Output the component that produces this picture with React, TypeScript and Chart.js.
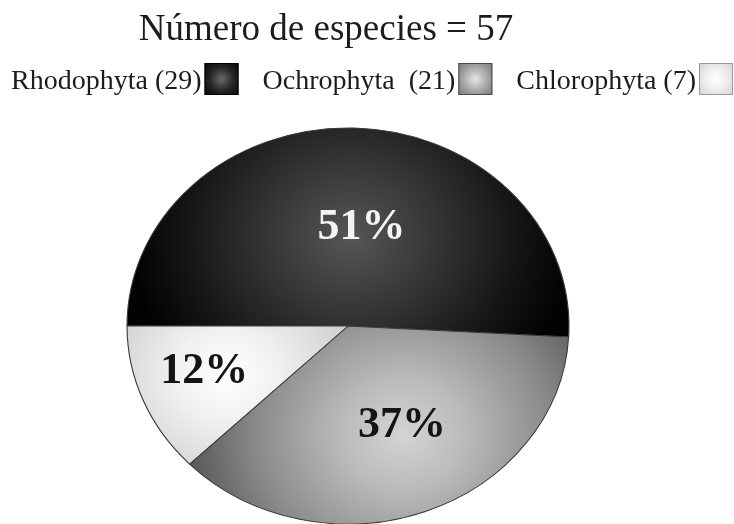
import React, { useEffect, useRef } from "react";
import { Chart, registerables } from "chart.js";

Chart.register(...registerables);

// ---- data ----
const titleText = "Número de especies = 57";
const categories = ["Rhodophyta", "Ochrophyta", "Chlorophyta"];
const speciesCounts = [29, 21, 7];
const legendLabels = ["Rhodophyta (29)", "Ochrophyta  (21)", "Chlorophyta (7)"];

// ---- styling ----
const W = 734;
const H = 524;
const SX = 1.116; // horizontal stretch of the pie (ellipse)
const RADIUS = 198;

type Stop = [number, string];
const sliceStyles: {
  stops: Stop[];
  gradAngleFrac: number;
  gradRadiusFrac: number;
  gradSize: number;
  labelAngleFrac: number;
  labelRadiusFrac: number;
  labelColor: string;
  legendStops: Stop[];
  legendBorder: string;
}[] = [
  {
    stops: [[0, "#565656"], [0.35, "#383838"], [0.75, "#151515"], [1, "#020202"]],
    gradAngleFrac: 0.5,
    gradRadiusFrac: 0.45,
    gradSize: 1.0,
    labelAngleFrac: 0.53,
    labelRadiusFrac: 0.5,
    labelColor: "#f4f4f4",
    legendStops: [[0, "#6a6a6a"], [0.5, "#262626"], [1, "#050505"]],
    legendBorder: "#000000",
  },
  {
    stops: [[0, "#d4d4d4"], [0.3, "#bababa"], [0.7, "#8a8a8a"], [1, "#5c5c5c"]],
    gradAngleFrac: 0.47,
    gradRadiusFrac: 0.6,
    gradSize: 0.95,
    labelAngleFrac: 0.46,
    labelRadiusFrac: 0.56,
    labelColor: "#141414",
    legendStops: [[0, "#e6e6e6"], [0.5, "#a8a8a8"], [1, "#747474"]],
    legendBorder: "#4a4a4a",
  },
  {
    stops: [[0, "#ffffff"], [0.4, "#f0f0f0"], [1, "#cdcdcd"]],
    gradAngleFrac: 0.45,
    gradRadiusFrac: 0.6,
    gradSize: 0.6,
    labelAngleFrac: 0.56,
    labelRadiusFrac: 0.69,
    labelColor: "#141414",
    legendStops: [[0, "#ffffff"], [0.5, "#ececec"], [1, "#cfcfcf"]],
    legendBorder: "#9a9a9a",
  },
];

const total = speciesCounts.reduce((a, b) => a + b, 0);
const percentLabels = speciesCounts.map((v) => `${Math.round((v / total) * 100)}%`);

function sliceAngles(i: number): [number, number] {
  let before = 0;
  for (let k = 0; k < i; k++) before += speciesCounts[k];
  const start = Math.PI + (before / total) * Math.PI * 2;
  const end = start + (speciesCounts[i] / total) * Math.PI * 2;
  return [start, end];
}

const piePlugin = {
  id: "piePlugin",
  beforeDatasetsDraw(chart: any) {
    const arc = chart.getDatasetMeta(0).data[0];
    if (!arc) return;
    const ctx = chart.ctx;
    ctx.save();
    ctx.translate(arc.x, 0);
    ctx.scale(SX, 1);
    ctx.translate(-arc.x, 0);
  },
  afterDatasetsDraw(chart: any) {
    const ctx = chart.ctx;
    ctx.restore();
    const arcs = chart.getDatasetMeta(0).data;
    ctx.save();
    ctx.font = 'bold 44px "Liberation Serif"';
    ctx.textAlign = "center";
    ctx.textBaseline = "middle";
    arcs.forEach((a: any, i: number) => {
      const st = sliceStyles[i];
      const ang = a.startAngle + (a.endAngle - a.startAngle) * st.labelAngleFrac;
      const r = a.outerRadius * st.labelRadiusFrac;
      const x = a.x + Math.cos(ang) * r * SX;
      const y = a.y + Math.sin(ang) * r;
      ctx.fillStyle = st.labelColor;
      ctx.fillText(percentLabels[i], x, y);
    });
    ctx.restore();
  },
  afterDraw(chart: any) {
    const ctx = chart.ctx;
    ctx.save();
    // title
    ctx.fillStyle = "#1c1c1c";
    ctx.font = '37px "Liberation Serif"';
    ctx.textAlign = "center";
    ctx.textBaseline = "alphabetic";
    ctx.fillText(titleText, 326, 40);
    // legend
    ctx.font = '28px "Liberation Serif"';
    ctx.textAlign = "left";
    let x = 11;
    const baseline = 89;
    const boxTop = 63;
    const boxW = 34;
    const boxH = 32;
    legendLabels.forEach((label, i) => {
      ctx.fillStyle = "#1c1c1c";
      ctx.fillText(label, x, baseline);
      x += ctx.measureText(label).width + 3;
      const st = sliceStyles[i];
      const cxb = x + boxW / 2;
      const cyb = boxTop + boxH / 2;
      const g = ctx.createRadialGradient(cxb, cyb, 0, cxb, cyb, boxW * 0.7);
      st.legendStops.forEach(([o, c]) => g.addColorStop(o, c));
      ctx.fillStyle = g;
      ctx.fillRect(x, boxTop, boxW, boxH);
      ctx.strokeStyle = st.legendBorder;
      ctx.lineWidth = 1;
      ctx.strokeRect(x + 0.5, boxTop + 0.5, boxW - 1, boxH - 1);
      x += boxW + 24;
    });
    ctx.restore();
  },
};

export default function App() {
  const canvasRef = useRef<HTMLCanvasElement | null>(null);

  useEffect(() => {
    document.body.style.margin = "0";
    document.body.style.background = "#ffffff";
    const canvas = canvasRef.current;
    if (!canvas) return;
    const chart = new Chart(canvas, {
      type: "pie",
      data: {
        labels: categories,
        datasets: [
          {
            data: speciesCounts,
            backgroundColor: (c: any) => {
              const ch = c.chart;
              const area = ch.chartArea;
              const i = c.dataIndex;
              const st = sliceStyles[i];
              if (!area || st === undefined) return "#888";
              const cx = (area.left + area.right) / 2;
              const cy = (area.top + area.bottom) / 2;
              const [s, e] = sliceAngles(i);
              const ang = s + (e - s) * st.gradAngleFrac;
              const gx = cx + Math.cos(ang) * RADIUS * st.gradRadiusFrac;
              const gy = cy + Math.sin(ang) * RADIUS * st.gradRadiusFrac;
              const g = ch.ctx.createRadialGradient(gx, gy, 0, gx, gy, RADIUS * st.gradSize);
              st.stops.forEach(([o, col]) => g.addColorStop(o, col));
              return g;
            },
            borderColor: "#3a3a3a",
            borderWidth: 1,
            hoverOffset: 0,
            clip: false as any,
          },
        ],
      },
      options: {
        responsive: false,
        animation: false,
        rotation: -90,
        radius: RADIUS,
        layout: { padding: { top: 128, bottom: 0, left: 150, right: 188 } },
        plugins: {
          legend: { display: false },
          title: { display: false },
          tooltip: { enabled: false },
        },
        events: [],
      },
      plugins: [piePlugin],
    });
    return () => chart.destroy();
  }, []);

  return (
    <div style={{ width: W, height: H, background: "#fff" }}>
      <canvas ref={canvasRef} width={W} height={H} style={{ display: "block" }} />
    </div>
  );
}
